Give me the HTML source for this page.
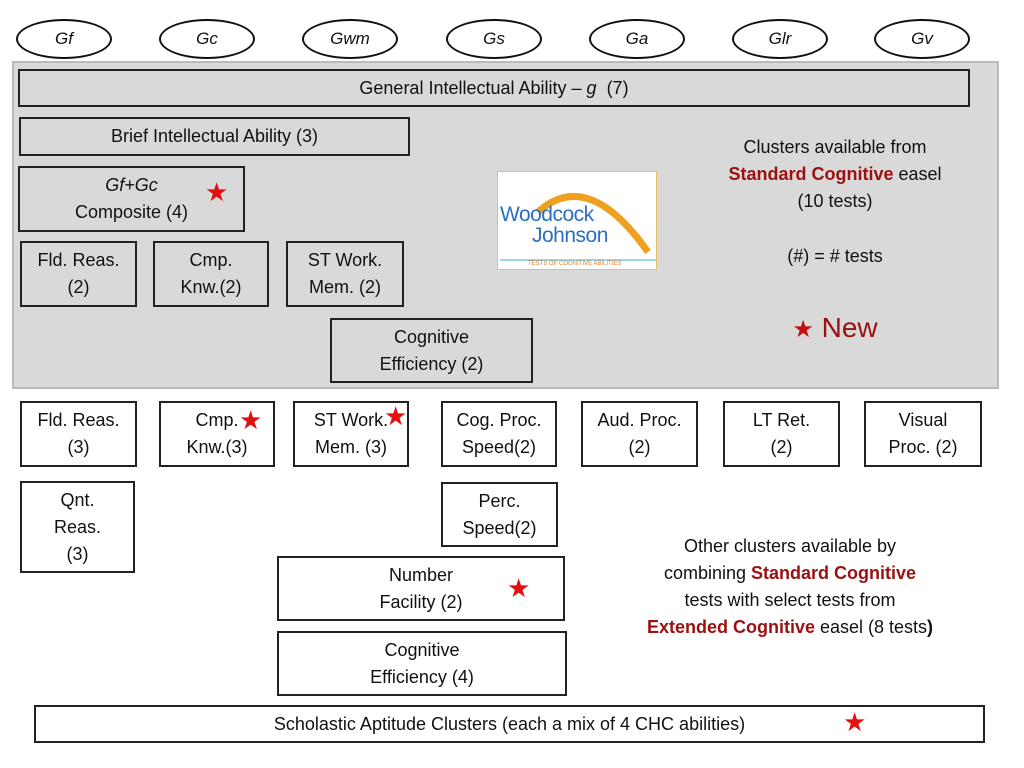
<!DOCTYPE html>
<html><head><meta charset="utf-8"><style>
*{margin:0;padding:0;box-sizing:border-box}
body{width:1024px;height:768px;background:#fff;position:relative;overflow:hidden;font-family:"Liberation Sans",sans-serif;color:#111}
.b{position:absolute;border:2px solid #222;display:flex;align-items:center;justify-content:center;text-align:center;font-size:18px;line-height:27px}
.e{position:absolute;border:2px solid #111;border-radius:50%;width:96px;height:40px;top:19px;display:flex;align-items:center;justify-content:center;font-style:italic;font-size:17px;background:#fff}
.s{position:absolute;color:#e31010;font-size:26px;line-height:26px}
.t{position:absolute;text-align:center;font-size:18px;line-height:27px}
.r{color:#9b1010;font-weight:bold}
</style></head><body>
<div class="e" style="left:16px">Gf</div>
<div class="e" style="left:159px">Gc</div>
<div class="e" style="left:302px">Gwm</div>
<div class="e" style="left:446px">Gs</div>
<div class="e" style="left:589px">Ga</div>
<div class="e" style="left:732px">Glr</div>
<div class="e" style="left:874px">Gv</div>
<div style="position:absolute;left:12px;top:61px;width:987px;height:328px;background:#d9d9d9;border:2px solid #bbb"></div>
<div class="b" style="left:18px;top:69px;width:952px;height:38px">General Intellectual Ability – <i>&nbsp;g</i>&nbsp; (7)</div>
<div class="b" style="left:19px;top:117px;width:391px;height:39px">Brief Intellectual Ability (3)</div>
<div class="b" style="left:18px;top:166px;width:227px;height:66px"><span><i>Gf+Gc</i><br>Composite (4)</span></div>
<div class="s" style="left:205px;top:179px">★</div>
<div class="b" style="left:20px;top:241px;width:117px;height:66px">Fld. Reas.<br>(2)</div>
<div class="b" style="left:153px;top:241px;width:116px;height:66px">Cmp.<br>Knw.(2)</div>
<div class="b" style="left:286px;top:241px;width:118px;height:66px">ST Work.<br>Mem. (2)</div>
<div class="b" style="left:330px;top:318px;width:203px;height:65px">Cognitive<br>Efficiency (2)</div>
<div style="position:absolute;left:497px;top:171px;width:160px;height:99px;background:#fff;border:1px solid #e8c060;overflow:hidden">
<svg width="160" height="99" style="position:absolute;left:0;top:0"><path d="M40 40 Q90 -5 150 80" stroke="#f0a020" stroke-width="7" fill="none"/><line x1="2" y1="88" x2="158" y2="88" stroke="#7cc8e0" stroke-width="1.5"/></svg>
<div style="position:absolute;left:2px;top:32px;font-size:21px;line-height:21px;color:#2a6fc0;letter-spacing:-0.5px">Woodcock<br>&nbsp;&nbsp;&nbsp;&nbsp;&nbsp;&nbsp;Johnson</div>
<div style="position:absolute;left:30px;top:89px;font-size:6px;color:#d08030">TESTS OF COGNITIVE ABILITIES</div>
</div>
<div class="t" style="left:700px;top:134px;width:270px">Clusters available from<br><span class="r">Standard Cognitive</span> easel<br>(10 tests)</div>
<div class="t" style="left:700px;top:243px;width:270px">(#) = # tests</div>
<div class="t" style="left:700px;top:311px;width:270px;font-size:28px;line-height:34px;color:#9b1010"><span style="color:#c01010;font-size:24px">★</span>&nbsp;New</div>
<div class="b" style="left:20px;top:401px;width:117px;height:66px">Fld. Reas.<br>(3)</div>
<div class="b" style="left:159px;top:401px;width:116px;height:66px">Cmp.<br>Knw.(3)</div>
<div class="s" style="left:239px;top:407px">★</div>
<div class="b" style="left:293px;top:401px;width:116px;height:66px">ST Work.<br>Mem. (3)</div>
<div class="s" style="left:384px;top:403px">★</div>
<div class="b" style="left:441px;top:401px;width:116px;height:66px">Cog. Proc.<br>Speed(2)</div>
<div class="b" style="left:581px;top:401px;width:117px;height:66px">Aud. Proc.<br>(2)</div>
<div class="b" style="left:723px;top:401px;width:117px;height:66px">LT Ret.<br>(2)</div>
<div class="b" style="left:864px;top:401px;width:118px;height:66px">Visual<br>Proc. (2)</div>
<div class="b" style="left:20px;top:481px;width:115px;height:92px">Qnt.<br>Reas.<br>(3)</div>
<div class="b" style="left:441px;top:482px;width:117px;height:65px">Perc.<br>Speed(2)</div>
<div class="b" style="left:277px;top:556px;width:288px;height:65px">Number<br>Facility (2)</div>
<div class="s" style="left:507px;top:575px">★</div>
<div class="b" style="left:277px;top:631px;width:290px;height:65px">Cognitive<br>Efficiency (4)</div>
<div class="t" style="left:620px;top:533px;width:340px">Other clusters available by<br>combining <span class="r">Standard Cognitive</span><br>tests with select tests from<br><span class="r">Extended Cognitive</span> easel (8 tests<b>)</b></div>
<div class="b" style="left:34px;top:705px;width:951px;height:38px">Scholastic Aptitude Clusters (each a mix of 4 CHC abilities)</div>
<div class="s" style="left:843px;top:709px">★</div>
</body></html>
